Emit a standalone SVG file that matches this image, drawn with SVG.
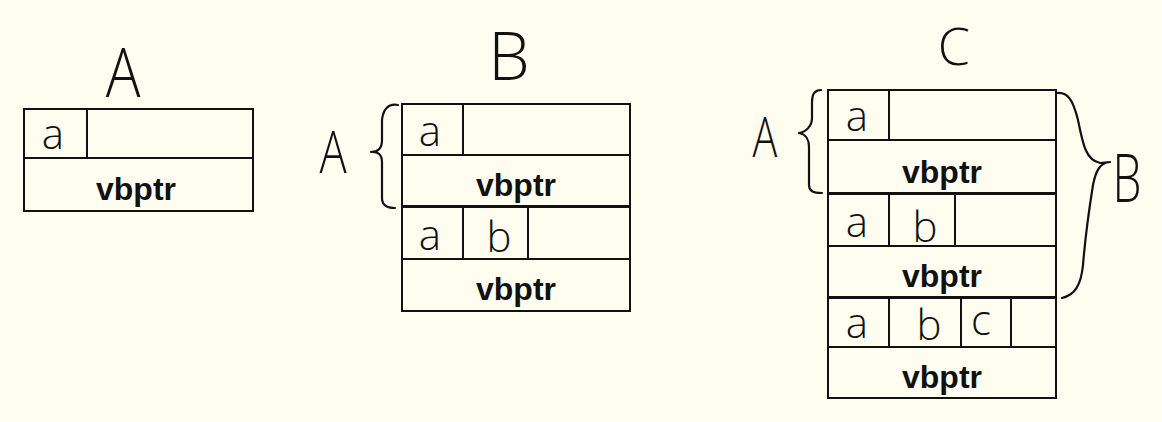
<svg xmlns="http://www.w3.org/2000/svg" width="1162" height="422" viewBox="0 0 1162 422">
<style>
.box{fill:none;stroke:#111;stroke-width:2}
.ln{stroke:#111;stroke-width:2;fill:none}
.br{stroke:#111;stroke-width:2.2;fill:none;stroke-linecap:round;stroke-linejoin:round}
.vb{font-family:"Liberation Sans",Arial,sans-serif;font-weight:bold;font-size:32px;fill:#111;text-anchor:middle}
.hw{font-family:"Open Sans","DejaVu Sans",sans-serif;font-weight:300;fill:#111;text-anchor:middle}
.f{font-size:42px}
</style>
<rect width="1162" height="422" fill="#fefdf0"/>

<g id="objA">
<text class="hw" font-size="68" transform="translate(123,97) scale(0.85,1)">A</text>
<rect class="box" x="24" y="109" width="229" height="102"/>
<line class="ln" x1="24" y1="158" x2="253" y2="158"/>
<line class="ln" x1="87" y1="109" x2="87" y2="158"/>
<text class="hw f" x="53" y="149">a</text>
<text class="vb" x="136" y="200">vbptr</text>
</g>

<g id="objB">
<text class="hw" x="509" y="80" font-size="66">B</text>
<rect class="box" x="402" y="104" width="228" height="102"/>
<line class="ln" x1="402" y1="155" x2="630" y2="155"/>
<line class="ln" x1="463" y1="104" x2="463" y2="155"/>
<text class="hw f" x="430" y="146">a</text>
<text class="vb" x="516" y="196">vbptr</text>
<rect class="box" x="402" y="207" width="228" height="104"/>
<line class="ln" x1="402" y1="259" x2="630" y2="259"/>
<line class="ln" x1="463" y1="207" x2="463" y2="259"/>
<line class="ln" x1="528" y1="207" x2="528" y2="259"/>
<text class="hw f" x="430" y="250">a</text>
<text class="hw f" x="499" y="252">b</text>
<text class="vb" x="516" y="300">vbptr</text>
</g>

<g id="objC">
<text class="hw" x="954" y="65" font-size="52">C</text>
<rect class="box" x="828" y="90" width="228" height="103"/>
<line class="ln" x1="828" y1="140" x2="1056" y2="140"/>
<line class="ln" x1="889" y1="90" x2="889" y2="140"/>
<text class="hw f" x="857" y="131">a</text>
<text class="vb" x="942" y="183">vbptr</text>
<rect class="box" x="828" y="194" width="228" height="103"/>
<line class="ln" x1="828" y1="246" x2="1056" y2="246"/>
<line class="ln" x1="889" y1="194" x2="889" y2="246"/>
<line class="ln" x1="955" y1="194" x2="955" y2="246"/>
<text class="hw f" x="857" y="237">a</text>
<text class="hw f" x="925" y="242">b</text>
<text class="vb" x="942" y="287">vbptr</text>
<rect class="box" x="828" y="298" width="228" height="100"/>
<line class="ln" x1="828" y1="347" x2="1056" y2="347"/>
<line class="ln" x1="889" y1="298" x2="889" y2="347"/>
<line class="ln" x1="961" y1="298" x2="961" y2="347"/>
<line class="ln" x1="1011" y1="298" x2="1011" y2="347"/>
<text class="hw f" x="857" y="338">a</text>
<text class="hw f" x="929" y="340">b</text>
<text class="hw f" x="981" y="335">c</text>
<text class="vb" x="942" y="388">vbptr</text>
</g>

<g id="labels">
<text class="hw" font-size="58" transform="translate(333,173) scale(0.78,1)">A</text>
<text class="hw" font-size="55" transform="translate(765,157) scale(0.75,1)">A</text>
<text class="hw" font-size="66" transform="translate(1127,202) scale(0.7,1)">B</text>
</g>

<g id="connectors">
<path class="br" d="M398,105 C388,103 383,110 382,120 L382,140 C382,148 378,152 371,152 C378,151 382,155 382,162 L382,198 C382,205 386,208 395,208"/>
<path class="br" d="M821,90 C814,90 812,95 812,102 L812,118 C812,126 806,132 799,133 C806,134 809,140 809,147 L809,185 C809,191 813,193 822,193"/>
<path class="br" d="M1057,93 C1068,92 1073,100 1078,120 C1083,145 1086,160 1100,163 L1110,162 C1100,163 1096,170 1093,185 C1089,210 1085,240 1083,265 C1081,285 1075,295 1062,298"/>
</g>
</svg>
